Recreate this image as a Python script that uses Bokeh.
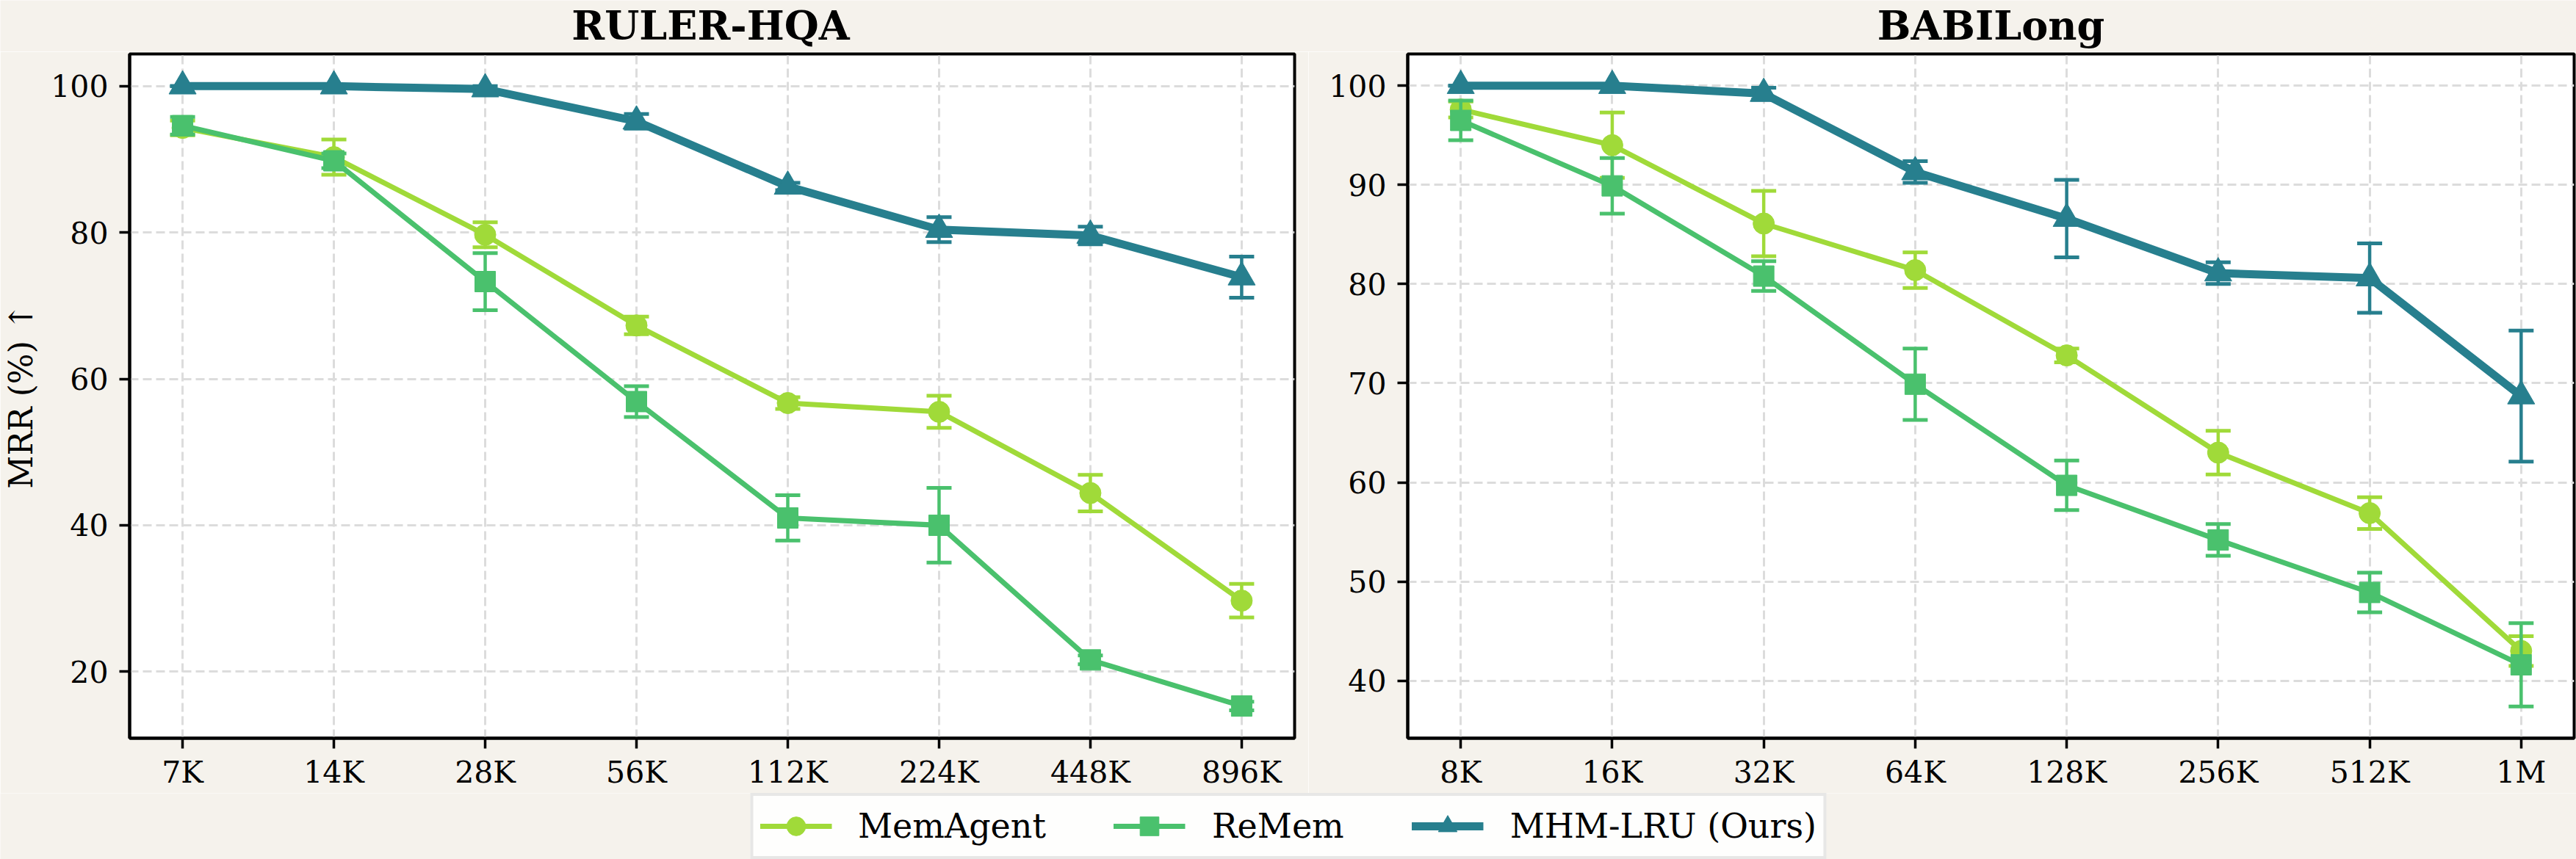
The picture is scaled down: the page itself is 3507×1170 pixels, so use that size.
import numpy as np
from bokeh.plotting import figure
from bokeh.models import Range1d, FixedTicker, ColumnDataSource, Legend, LegendItem, Label
from bokeh.layouts import row, column
from bokeh.embed import file_html
from bokeh.resources import INLINE

# ---------------- data ----------------
ruler_labels = ["7K", "14K", "28K", "56K", "112K", "224K", "448K", "896K"]
ruler_memagent = [94.3, 90.3, 79.7, 67.3, 56.7, 55.5, 44.4, 29.7]
ruler_memagent_err = [1.0, 2.4, 1.7, 1.2, 0.8, 2.2, 2.5, 2.3]
ruler_remem = [94.6, 89.8, 73.3, 56.9, 41.0, 40.0, 21.6, 15.3]
ruler_remem_err = [1.2, 1.0, 3.9, 2.1, 3.1, 5.1, 0.6, 0.6]
ruler_mhm = [100.0, 100.0, 99.6, 95.2, 86.3, 80.4, 79.6, 73.9]
ruler_mhm_err = [0.0, 0.0, 0.4, 1.0, 0.5, 1.7, 1.2, 2.8]

babi_labels = ["8K", "16K", "32K", "64K", "128K", "256K", "512K", "1M"]
babi_memagent = [97.6, 94.0, 86.1, 81.4, 72.8, 63.0, 56.9, 43.0]
babi_memagent_err = [0.8, 3.3, 3.3, 1.8, 0.7, 2.2, 1.6, 1.5]
babi_remem = [96.5, 89.9, 80.8, 69.9, 59.7, 54.2, 48.9, 41.6]
babi_remem_err = [2.0, 2.8, 1.5, 3.6, 2.5, 1.6, 2.0, 4.2]
babi_mhm = [100.0, 100.0, 99.2, 91.3, 86.6, 81.1, 80.6, 68.7]
babi_mhm_err = [0.0, 0.0, 0.6, 1.1, 3.9, 1.1, 3.5, 6.6]

panel_titles = ["RULER-HQA", "BABILong"]
series_names = ["MemAgent", "ReMem", "MHM-LRU (Ours)"]
ruler_yticks = [20, 40, 60, 80, 100]
babi_yticks = [40, 50, 60, 70, 80, 90, 100]

# ---------------- style / layout ----------------
BG = "#f5f2ec"
FONT = "DejaVu Serif"
COLORS = ["#a0da39", "#4ac16d", "#277f8e"]
MARKERS = ["circle", "square", "triangle"]
MSIZES = [29, 28, 37]
LWIDTHS = [7, 7, 11]
TICK_FS = "41px"
TOTAL_W = 3507
TITLE_H = 70
PANEL_H = 1010
LEGEND_H = 90
BORDER_TOP = 3
BORDER_BOTTOM = 75
# (figure width, left border, right border) of the two panels
PANEL_GEOM = [(1781, 172, 19), (1726, 135, 3)]


def make_sources(labels, vals_list, errs_list):
    x = np.arange(len(labels))
    out = []
    for vals, errs in zip(vals_list, errs_list):
        v = np.array(vals)
        e = np.array(errs)
        out.append(ColumnDataSource(dict(x=x, y=v, lo=v - e, hi=v + e)))
    return out


def make_panel(labels, sources, yr, yticks, geom, ylabel=None):
    width, mbl, mbr = geom
    p = figure(width=width, height=PANEL_H,
               x_range=Range1d(-0.35, len(labels) - 1 + 0.35),
               y_range=Range1d(*yr),
               output_backend="svg", toolbar_location=None,
               min_border_left=mbl, min_border_right=mbr,
               min_border_top=BORDER_TOP, min_border_bottom=BORDER_BOTTOM)
    p.border_fill_color = BG
    p.background_fill_color = "white"
    p.outline_line_color = "black"
    p.outline_line_width = 4

    p.xaxis.ticker = FixedTicker(ticks=list(range(len(labels))))
    p.xaxis.major_label_overrides = {i: lab for i, lab in enumerate(labels)}
    p.yaxis.ticker = FixedTicker(ticks=yticks)
    for ax in (p.xaxis[0], p.yaxis[0]):
        ax.axis_line_width = 4
        ax.axis_line_color = "black"
        ax.major_tick_out = 14
        ax.major_tick_in = 0
        ax.major_tick_line_width = 3.5
        ax.major_tick_line_color = "black"
        ax.minor_tick_line_color = None
        ax.major_label_text_font = FONT
        ax.major_label_text_font_size = TICK_FS
        ax.major_label_text_color = "black"
    p.xaxis.major_label_standoff = 8
    p.yaxis.major_label_standoff = 15
    if ylabel:
        p.yaxis.axis_label = ylabel
        p.yaxis.axis_label_text_font = FONT
        p.yaxis.axis_label_text_font_size = "44px"
        p.yaxis.axis_label_text_font_style = "normal"
        p.yaxis.axis_label_text_color = "black"
        p.yaxis.axis_label_standoff = 12

    for g in (p.xgrid[0], p.ygrid[0]):
        g.grid_line_color = "#dcdcdc"
        g.grid_line_width = 3
        g.grid_line_dash = "12 6"

    for src, color, marker, ms, lw in zip(sources, COLORS, MARKERS, MSIZES, LWIDTHS):
        p.segment(x0="x", y0="lo", x1="x", y1="hi", source=src, line_color=color, line_width=4.5)
        p.scatter("x", "lo", source=src, marker="dash", size=34, line_color=color, line_width=5)
        p.scatter("x", "hi", source=src, marker="dash", size=34, line_color=color, line_width=5)
        p.line("x", "y", source=src, line_color=color, line_width=lw)
        p.scatter("x", "y", source=src, marker=marker, size=ms, fill_color=color, line_color=color)
    return p


ruler_src = make_sources(ruler_labels, [ruler_memagent, ruler_remem, ruler_mhm],
                         [ruler_memagent_err, ruler_remem_err, ruler_mhm_err])
babi_src = make_sources(babi_labels, [babi_memagent, babi_remem, babi_mhm],
                        [babi_memagent_err, babi_remem_err, babi_mhm_err])

p1 = make_panel(ruler_labels, ruler_src, (10.9, 104.4), ruler_yticks, PANEL_GEOM[0],
                ylabel="MRR (%) \u2191")
p2 = make_panel(babi_labels, babi_src, (34.2, 103.2), babi_yticks, PANEL_GEOM[1])

# ---------------- title strip (pixel-mapped ranges; titles centred over each frame) ----------------
top = figure(width=TOTAL_W, height=TITLE_H, x_range=Range1d(0, TOTAL_W), y_range=Range1d(0, TITLE_H),
             output_backend="svg", toolbar_location=None, min_border=0)
top.axis.visible = False
top.grid.visible = False
top.outline_line_color = None
top.background_fill_color = BG
top.border_fill_color = BG
x_off = 0
for title, (w, mbl, mbr) in zip(panel_titles, PANEL_GEOM):
    cx = x_off + mbl + (w - mbl - mbr) / 2
    top.add_layout(Label(x=cx, y=TITLE_H - 34, text=title, text_font=FONT,
                         text_font_style="bold", text_font_size="54px", text_color="black",
                         text_align="center", text_baseline="middle"))
    x_off += w

# ---------------- legend strip (shares the data sources; ranges keep marks out of view) ----------------
leg = figure(width=TOTAL_W, height=LEGEND_H, x_range=Range1d(1000, 1001), y_range=Range1d(1000, 1001),
             output_backend="svg", toolbar_location=None, min_border=0)
leg.axis.visible = False
leg.grid.visible = False
leg.outline_line_color = None
leg.background_fill_color = BG
leg.border_fill_color = BG
items = []
for name, src, color, marker, ms, lw in zip(series_names, ruler_src, COLORS, MARKERS, MSIZES, LWIDTHS):
    r1 = leg.line("x", "y", source=src, line_color=color, line_width=lw)
    r2 = leg.scatter("x", "y", source=src, marker=marker, size=ms, fill_color=color, line_color=color)
    items.append(LegendItem(label=name, renderers=[r1, r2]))
legend = Legend(items=items, orientation="horizontal", location="center",
                glyph_width=98, glyph_height=64, label_standoff=36, spacing=92,
                padding=9, margin=0,
                label_text_font=FONT, label_text_font_size="46px", label_text_color="black",
                border_line_color="#cfcfcf", border_line_width=4,
                background_fill_color="#fefefd", background_fill_alpha=1.0)
leg.add_layout(legend, "center")

layout = column(top, row(p1, p2), leg)
open("out.html", "w").write(file_html(layout, INLINE))
